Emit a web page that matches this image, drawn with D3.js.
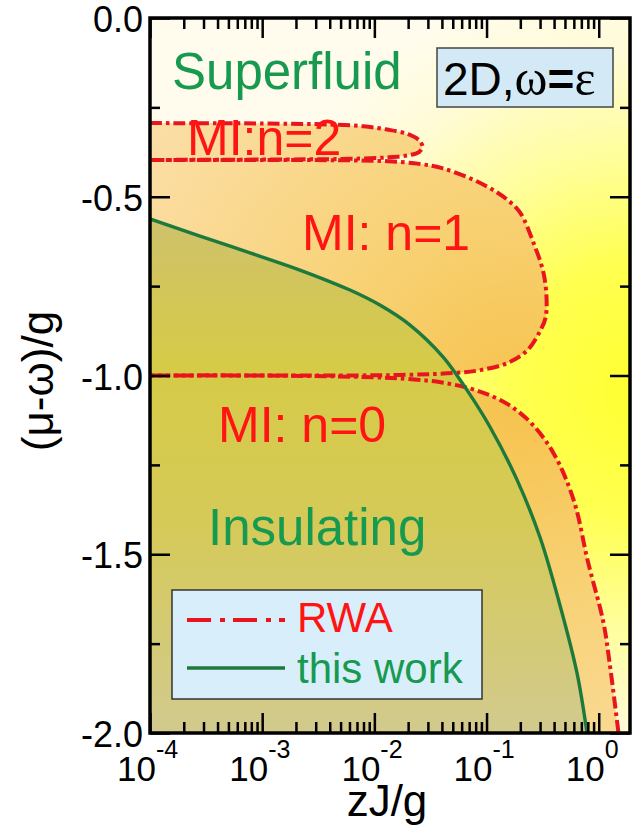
<!DOCTYPE html>
<html>
<head>
<meta charset="utf-8">
<script src="https://cdn.jsdelivr.net/npm/d3@7"></script>
<style>
  body { margin: 0; background: #fff; }
  text { font-family: "Liberation Sans", Arial, sans-serif; }
</style>
</head>
<body>
<div id="chart"></div>
<script>
// RWA boundary of the n=0 lobe (zJ/g, (mu-omega)/g)
var rwaN0J  = [1e-4, 0.001, 0.01, 0.02, 0.039, 0.08, 0.15, 0.25, 0.4, 0.6, 0.8, 1.1, 1.25, 1.5];
var rwaN0Mu = [-1.0, -1.0, -1.005, -1.01, -1.019, -1.041, -1.078, -1.133, -1.22, -1.35, -1.52, -1.69, -1.804, -2.0];

// RWA n=1 lobe, upper branch to tip and back along lower branch
var rwaN1J  = [1e-4, 0.001, 0.005, 0.012, 0.025, 0.04, 0.077, 0.12, 0.154, 0.2, 0.263, 0.322, 0.343, 0.335, 0.303, 0.232, 0.154, 0.088, 0.051, 0.02, 0.005, 1e-4];
var rwaN1Mu = [-0.397, -0.397, -0.398, -0.40, -0.408, -0.42, -0.453, -0.485, -0.509, -0.545, -0.63, -0.713, -0.789, -0.84, -0.873, -0.929, -0.965, -0.985, -0.993, -0.998, -1.0, -1.0];

// RWA n=2 lobe
var rwaN2J  = [1e-4, 0.001, 0.004, 0.008, 0.013, 0.02, 0.025, 0.0268, 0.025, 0.02, 0.013, 0.006, 0.001, 1e-4];
var rwaN2Mu = [-0.294, -0.295, -0.298, -0.303, -0.312, -0.325, -0.342, -0.36, -0.375, -0.384, -0.39, -0.394, -0.396, -0.397];

// this work: superfluid / insulating boundary
var workJ  = [1e-4, 2.79e-4, 7.79e-4, 2.17e-3, 6.06e-3, 0.0112, 0.0208, 0.0409, 0.067, 0.1074, 0.187, 0.30, 0.442, 0.64, 0.786];
var workMu = [-0.562, -0.610, -0.657, -0.705, -0.761, -0.803, -0.859, -0.948, -1.041, -1.144, -1.292, -1.453, -1.632, -1.832, -2.0];

var xMajor = [1e-4, 1e-3, 1e-2, 1e-1, 1];
var xLabelExp = ["-4", "-3", "-2", "-1", "0"];
var yMajor = [0, -0.5, -1.0, -1.5, -2.0];
var yMinor = [-0.25, -0.75, -1.25, -1.75];

var width = 643, height = 833;
var pL = 150, pR = 630, pT = 18, pB = 733;

var x = d3.scaleLog().domain([1e-4, 1.9]).range([pL, pR]);
var y = d3.scaleLinear().domain([0, -2]).range([pT, pB]);

var xMinor = [];
xMajor.forEach(function(d){
  for (var k = 2; k <= 9; k++) { if (d * k <= 1.9) xMinor.push(d * k); }
});

var svg = d3.select("#chart").append("svg")
    .attr("width", width)
    .attr("height", height);

var defs = svg.append("defs");

var bg = defs.append("radialGradient").attr("id", "bgGrad")
    .attr("gradientUnits", "userSpaceOnUse")
    .attr("cx", 640).attr("cy", 390).attr("r", 420);
[[0, "#ffff30"], [0.3, "#ffff50"], [0.55, "#fffe98"], [0.8, "#fffbd6"], [1, "#fffcee"]].forEach(function(s){
  bg.append("stop").attr("offset", s[0]).attr("stop-color", s[1]);
});

var og = defs.append("radialGradient").attr("id", "miGrad")
    .attr("gradientUnits", "userSpaceOnUse")
    .attr("cx", 520).attr("cy", 400).attr("r", 450);
[[0, "#f6c24c"], [0.45, "#f8d276"], [1, "#fbdea6"]].forEach(function(s){
  og.append("stop").attr("offset", s[0]).attr("stop-color", s[1]);
});

var ig = defs.append("linearGradient").attr("id", "insGrad")
    .attr("gradientUnits", "userSpaceOnUse")
    .attr("x1", 0).attr("x2", 0).attr("y1", 210).attr("y2", 733);
[[0, "#cfc16e"], [0.3, "#d6cb47"], [0.6, "#d5ca58"], [1, "#d2ca8e"]].forEach(function(s){
  ig.append("stop").attr("offset", s[0]).attr("stop-color", s[1]);
});

defs.append("clipPath").attr("id", "plotClip")
  .append("rect").attr("x", pL).attr("y", pT)
  .attr("width", pR - pL).attr("height", pB - pT);

var plot = svg.append("g").attr("clip-path", "url(#plotClip)");

plot.append("rect")
    .attr("x", pL).attr("y", pT)
    .attr("width", pR - pL).attr("height", pB - pT)
    .attr("fill", "url(#bgGrad)");

function pts(J, M) { return J.map(function(d, i){ return [d, M[i]]; }); }

var n0 = pts(rwaN0J, rwaN0Mu),
    n1 = pts(rwaN1J, rwaN1Mu),
    n2 = pts(rwaN2J, rwaN2Mu),
    work = pts(workJ, workMu);

var smooth = d3.curveCatmullRom.alpha(0.5);

var areaBelow = d3.area()
    .x(function(d){ return x(d[0]); })
    .y0(y(-2))
    .y1(function(d){ return y(d[1]); })
    .curve(smooth);

var curveLine = d3.line()
    .x(function(d){ return x(d[0]); })
    .y(function(d){ return y(d[1]); })
    .curve(smooth);

// Mott lobes (RWA)
plot.append("path").attr("d", areaBelow(n0)).attr("fill", "url(#miGrad)");
plot.append("path").attr("d", curveLine(n1) + "Z").attr("fill", "url(#miGrad)");
plot.append("path").attr("d", curveLine(n2) + "Z").attr("fill", "url(#miGrad)");

// insulating region (this work)
plot.append("path").attr("d", areaBelow(work)).attr("fill", "url(#insGrad)");

var redCol = "#e8141e", greenLine = "#1e7a3c";
var redDash = "12,4,3.5,4";
[n0, n1, n2].forEach(function(p){
  plot.append("path").attr("d", curveLine(p))
      .attr("fill", "none").attr("stroke", redCol).attr("stroke-width", 4)
      .attr("stroke-dasharray", redDash);
});

plot.append("path").attr("d", curveLine(work))
    .attr("fill", "none").attr("stroke", greenLine).attr("stroke-width", 3.4);

// axes: ticks point inward
function noDomain(g){ g.select(".domain").remove(); g.selectAll(".tick line").attr("stroke", "#000").attr("stroke-width", 2.5); }

svg.append("g").attr("transform", "translate(0," + pB + ")")
    .call(d3.axisBottom(x).tickValues(xMajor).tickSize(-20).tickFormat(""))
    .call(noDomain);
svg.append("g").attr("transform", "translate(0," + pB + ")")
    .call(d3.axisBottom(x).tickValues(xMinor).tickSize(-11).tickFormat(""))
    .call(noDomain);
svg.append("g").attr("transform", "translate(0," + pT + ")")
    .call(d3.axisTop(x).tickValues(xMajor).tickSize(-20).tickFormat(""))
    .call(noDomain);
svg.append("g").attr("transform", "translate(0," + pT + ")")
    .call(d3.axisTop(x).tickValues(xMinor).tickSize(-11).tickFormat(""))
    .call(noDomain);

var yAxis = svg.append("g").attr("transform", "translate(" + pL + ",0)")
    .call(d3.axisLeft(y).tickValues(yMajor).tickSize(-20).tickPadding(7)
          .tickFormat(function(d){ return d.toFixed(1); }))
    .call(noDomain);
yAxis.selectAll(".tick text").attr("font-size", 36).attr("fill", "#000")
    .attr("dy", "0.38em")
    .attr("font-family", "Liberation Sans, Arial, sans-serif");
svg.append("g").attr("transform", "translate(" + pL + ",0)")
    .call(d3.axisLeft(y).tickValues(yMinor).tickSize(-10).tickFormat(""))
    .call(noDomain);
svg.append("g").attr("transform", "translate(" + pR + ",0)")
    .call(d3.axisRight(y).tickValues(yMajor).tickSize(-20).tickFormat(""))
    .call(noDomain);
svg.append("g").attr("transform", "translate(" + pR + ",0)")
    .call(d3.axisRight(y).tickValues(yMinor).tickSize(-10).tickFormat(""))
    .call(noDomain);

// frame
svg.append("rect")
    .attr("x", pL).attr("y", pT)
    .attr("width", pR - pL).attr("height", pB - pT)
    .attr("fill", "none").attr("stroke", "#000").attr("stroke-width", 3.5);

// x tick labels 10^n : base "10" ends just right of the tick, exponent follows
var xl = svg.append("g").selectAll("g").data(xMajor).enter().append("g");
xl.append("text")
    .attr("x", function(d){ return x(d) + 6; })
    .attr("y", 781)
    .attr("text-anchor", "end")
    .attr("font-size", 35)
    .text("10");
xl.append("text")
    .attr("x", function(d){ return x(d) + 6; })
    .attr("y", 758)
    .attr("font-size", 25)
    .text(function(d, i){ return xLabelExp[i]; });

// axis titles
svg.append("text").attr("x", 387).attr("y", 816)
    .attr("text-anchor", "middle").attr("font-size", 44).text("zJ/g");
svg.append("text").attr("transform", "translate(53,381) rotate(-90)")
    .attr("text-anchor", "middle").attr("font-size", 44).text("(μ-ω)/g");

// region labels
var green = "#179a50", red = "#ff1414";
svg.append("text").attr("x", 172).attr("y", 89).attr("font-size", 51)
    .attr("fill", green).text("Superfluid");
svg.append("text").attr("x", 187).attr("y", 155).attr("font-size", 50)
    .attr("fill", red).text("MI:n=2");
svg.append("text").attr("x", 302).attr("y", 250).attr("font-size", 50)
    .attr("fill", red).text("MI: n=1");
svg.append("text").attr("x", 218).attr("y", 442).attr("font-size", 50)
    .attr("fill", red).text("MI: n=0");
svg.append("text").attr("x", 208).attr("y", 545).attr("font-size", 51)
    .attr("fill", green).text("Insulating");

// parameter box
svg.append("rect").attr("x", 437).attr("y", 48).attr("width", 176).attr("height", 59)
    .attr("fill", "#d3e9f5").attr("stroke", "#444").attr("stroke-width", 1.5);
var pt = svg.append("text").attr("x", 443).attr("y", 95).attr("font-size", 46).attr("fill", "#000");
pt.append("tspan").text("2D,");
pt.append("tspan").attr("font-family", "Liberation Serif, Times New Roman, serif").attr("font-size", 50).text("ω");
pt.append("tspan").attr("font-weight", "bold").text("=");
pt.append("tspan").attr("font-family", "Liberation Serif, Times New Roman, serif").attr("font-size", 50).text("ε");

// legend
svg.append("rect").attr("x", 172).attr("y", 590).attr("width", 310).attr("height", 109)
    .attr("fill", "#d8eefa").attr("stroke", "#333").attr("stroke-width", 1.5);
svg.append("line").attr("x1", 187).attr("x2", 285).attr("y1", 620).attr("y2", 620)
    .attr("stroke", redCol).attr("stroke-width", 4).attr("stroke-dasharray", "24,9,5,8");
svg.append("line").attr("x1", 187).attr("x2", 285).attr("y1", 668).attr("y2", 668)
    .attr("stroke", greenLine).attr("stroke-width", 3.4);
svg.append("text").attr("x", 297).attr("y", 632).attr("font-size", 42)
    .attr("fill", red).text("RWA");
svg.append("text").attr("x", 297).attr("y", 683).attr("font-size", 42)
    .attr("fill", green).text("this work");
</script>
</body>
</html>
